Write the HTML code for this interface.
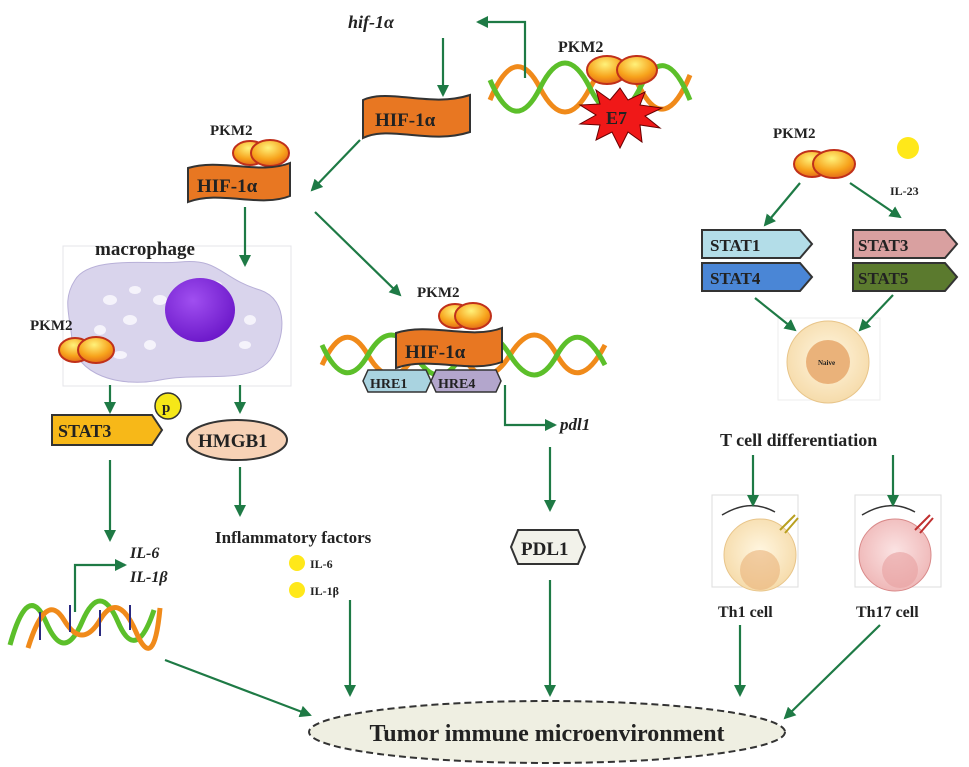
<!DOCTYPE html>
<html><head><meta charset="utf-8"><style>
body{margin:0;background:#fff}
svg{display:block}
text{font-family:"Liberation Serif",serif;font-weight:bold;fill:#222}
</style></head><body>
<svg width="969" height="767" viewBox="0 0 969 767" xmlns="http://www.w3.org/2000/svg">
<defs>
<marker id="a" markerWidth="12" markerHeight="12" refX="10" refY="6" orient="auto" markerUnits="userSpaceOnUse"><path d="M0,0 L12,6 L0,12 Z" fill="#1e7a45"/></marker>
<radialGradient id="og" cx="0.45" cy="0.3" r="0.75"><stop offset="0" stop-color="#fff27a"/><stop offset="0.6" stop-color="#f7a21b"/><stop offset="1" stop-color="#e0601a"/></radialGradient>
<radialGradient id="nv" cx="0.5" cy="0.45" r="0.6"><stop offset="0" stop-color="#fff6e0"/><stop offset="1" stop-color="#f5d9a6"/></radialGradient>
<radialGradient id="pk" cx="0.5" cy="0.45" r="0.6"><stop offset="0" stop-color="#fbe3e3"/><stop offset="1" stop-color="#eeb4b4"/></radialGradient>
<radialGradient id="nuc" cx="0.4" cy="0.35" r="0.7"><stop offset="0" stop-color="#a04ff0"/><stop offset="1" stop-color="#6a16c8"/></radialGradient>
</defs>
<!-- top DNA -->
<g fill="none" stroke-width="5">
<path d="M490 100 Q515 40 540 88 T590 88 T640 88 T690 75" stroke="#f08a1a"/>
<path d="M490 80 Q515 138 540 88 T590 88 T640 88 T690 100" stroke="#5cbf2a"/>
</g>
<text x="558" y="52" font-size="16">PKM2</text>
<ellipse cx="607" cy="70" rx="20" ry="14" fill="url(#og)" stroke="#c0301a" stroke-width="2"/>
<ellipse cx="637" cy="70" rx="20" ry="14" fill="url(#og)" stroke="#c0301a" stroke-width="2"/>
<polygon points="620,88 628,100 645,92 640,105 662,108 645,116 660,128 640,125 642,142 628,132 620,148 612,132 596,140 600,125 580,124 596,115 580,105 600,104 596,90 610,100" fill="#f01818" stroke="#600" stroke-width="1"/>
<text x="606" y="124" font-size="18" fill="#600">E7</text>
<text x="348" y="28" font-size="18" font-style="italic">hif-1α</text>
<!-- HIF top -->
<path d="M363 100 C390 88 430 108 470 95 V132 C430 145 390 125 363 138 Z" fill="#e87722" stroke="#333" stroke-width="2"/>
<text x="375" y="126" font-size="19">HIF-1α</text>
<!-- HIF left -->
<text x="210" y="135" font-size="15">PKM2</text>
<ellipse cx="250" cy="153" rx="17" ry="12" fill="url(#og)" stroke="#c0301a" stroke-width="2"/>
<ellipse cx="270" cy="153" rx="19" ry="13" fill="url(#og)" stroke="#c0301a" stroke-width="2"/>
<path d="M188 168 C220 158 260 175 290 163 V196 C260 208 220 190 188 202 Z" fill="#e87722" stroke="#333" stroke-width="2"/>
<text x="197" y="192" font-size="19">HIF-1α</text>
<!-- macrophage -->
<rect x="63" y="246" width="228" height="140" fill="#fff" stroke="#e4e4ea"/>
<path d="M75 280 C90 255 150 265 180 262 C220 258 220 278 260 290 C290 300 285 340 270 360 C250 385 200 372 160 380 C120 388 75 375 72 340 C70 315 62 300 75 280 Z" fill="#d9d4ec" stroke="#b8b0d8"/>
<g fill="#f5f3fb"><ellipse cx="110" cy="300" rx="7" ry="5"/><ellipse cx="135" cy="290" rx="6" ry="4"/><ellipse cx="160" cy="300" rx="7" ry="5"/><ellipse cx="100" cy="330" rx="6" ry="5"/><ellipse cx="130" cy="320" rx="7" ry="5"/><ellipse cx="250" cy="320" rx="6" ry="5"/><ellipse cx="245" cy="345" rx="6" ry="4"/><ellipse cx="120" cy="355" rx="7" ry="4"/><ellipse cx="150" cy="345" rx="6" ry="5"/><ellipse cx="215" cy="285" rx="7" ry="4"/></g>
<ellipse cx="200" cy="310" rx="35" ry="32" fill="url(#nuc)"/>
<text x="95" y="255" font-size="19">macrophage</text>
<text x="30" y="330" font-size="15">PKM2</text>
<ellipse cx="75" cy="350" rx="16" ry="12" fill="url(#og)" stroke="#c0301a" stroke-width="2"/>
<ellipse cx="96" cy="350" rx="18" ry="13" fill="url(#og)" stroke="#c0301a" stroke-width="2"/>
<!-- middle DNA -->
<g fill="none" stroke-width="5">
<path d="M322 365 Q345 315 368 355 T415 355 T462 355 T510 355 T557 355 T605 345" stroke="#f08a1a"/>
<path d="M322 345 Q345 395 368 355 T415 355 T462 355 T510 355 T557 355 T605 365" stroke="#5cbf2a"/>
</g>
<text x="417" y="297" font-size="15">PKM2</text>
<ellipse cx="455" cy="316" rx="16" ry="12" fill="url(#og)" stroke="#c0301a" stroke-width="2"/>
<ellipse cx="473" cy="316" rx="18" ry="13" fill="url(#og)" stroke="#c0301a" stroke-width="2"/>
<path d="M396 333 C430 322 470 340 502 328 V362 C470 374 430 356 396 368 Z" fill="#e87722" stroke="#333" stroke-width="2"/>
<text x="405" y="358" font-size="19">HIF-1α</text>
<path d="M368 370 H426 L431 381 L426 392 H368 L363 381 Z" fill="#a9d3e0" stroke="#333" stroke-width="1.5"/>
<text x="370" y="388" font-size="14">HRE1</text>
<path d="M436 370 H496 L501 381 L496 392 H436 L431 381 Z" fill="#b3a6cc" stroke="#333" stroke-width="1.5"/>
<text x="438" y="388" font-size="14">HRE4</text>
<text x="560" y="430" font-size="17" font-style="italic">pdl1</text>
<path d="M518 530 H578 L585 547 L578 564 H518 L511 547 Z" fill="#f2f2ea" stroke="#333" stroke-width="2"/>
<text x="521" y="555" font-size="19">PDL1</text>
<!-- STAT3 left -->
<path d="M52 415 H152 L162 430 L152 445 H52 Z" fill="#f7b818" stroke="#333" stroke-width="2"/>
<text x="58" y="437" font-size="18">STAT3</text>
<circle cx="168" cy="406" r="13" fill="#f5e718" stroke="#333" stroke-width="1.5"/>
<text x="162" y="412" font-size="15">p</text>
<ellipse cx="237" cy="440" rx="50" ry="20" fill="#f7d2b6" stroke="#333" stroke-width="2"/>
<text x="198" y="447" font-size="19">HMGB1</text>
<text x="130" y="558" font-size="16" font-style="italic">IL-6</text>
<text x="130" y="582" font-size="16" font-style="italic">IL-1β</text>
<g fill="none" stroke-width="5">
<path d="M10 645 Q28 580 46 622 T82 622 T118 622 T154 610" stroke="#5cbf2a"/>
<path d="M28 648 Q46 590 64 620 T100 620 T136 632 T160 608" stroke="#f08a1a"/>
</g>
<g stroke="#2a2a80" stroke-width="2"><path d="M40 612 V640 M70 605 V632 M100 610 V636 M130 605 V630"/></g>
<text x="215" y="543" font-size="17">Inflammatory factors</text>
<circle cx="297" cy="563" r="8" fill="#ffe81a"/>
<text x="310" y="568" font-size="12">IL-6</text>
<circle cx="297" cy="590" r="8" fill="#ffe81a"/>
<text x="310" y="595" font-size="12">IL-1β</text>
<!-- ellipse -->
<ellipse cx="547" cy="732" rx="238" ry="31" fill="#efefe2" stroke="#333" stroke-width="2" stroke-dasharray="7,4"/>
<text x="547" y="741" font-size="24" text-anchor="middle">Tumor immune microenvironment</text>
<!-- right side -->
<text x="773" y="138" font-size="15">PKM2</text>
<ellipse cx="812" cy="164" rx="18" ry="13" fill="url(#og)" stroke="#c0301a" stroke-width="2"/>
<ellipse cx="834" cy="164" rx="21" ry="14" fill="url(#og)" stroke="#c0301a" stroke-width="2"/>
<circle cx="908" cy="148" r="11" fill="#ffe81a"/>
<text x="890" y="195" font-size="12">IL-23</text>
<path d="M702 230 H800 L812 244 L800 258 H702 Z" fill="#b3dde8" stroke="#333" stroke-width="2"/>
<text x="710" y="251" font-size="17">STAT1</text>
<path d="M702 263 H800 L812 277 L800 291 H702 Z" fill="#4a86d6" stroke="#333" stroke-width="2"/>
<text x="710" y="284" font-size="17">STAT4</text>
<path d="M853 230 H945 L957 244 L945 258 H853 Z" fill="#d9a0a0" stroke="#333" stroke-width="2"/>
<text x="858" y="251" font-size="17">STAT3</text>
<path d="M853 263 H945 L957 277 L945 291 H853 Z" fill="#5b7a2e" stroke="#333" stroke-width="2"/>
<text x="858" y="284" font-size="17">STAT5</text>
<rect x="778" y="318" width="102" height="82" fill="#fff" stroke="#eee"/>
<circle cx="828" cy="362" r="41" fill="url(#nv)" stroke="#e8c58a"/>
<circle cx="828" cy="362" r="22" fill="#eab27a"/>
<text x="818" y="365" font-size="7" font-weight="normal" fill="#555" font-family="Liberation Sans,sans-serif">Naive</text>
<text x="720" y="446" font-size="18">T cell differentiation</text>
<rect x="712" y="495" width="86" height="92" fill="#fff" stroke="#ddd"/>
<circle cx="760" cy="555" r="36" fill="url(#nv)" stroke="#e8c58a"/>
<circle cx="760" cy="570" r="20" fill="#eab27a" opacity="0.6"/>
<path d="M722 515 Q750 498 775 512" fill="none" stroke="#333" stroke-width="1.5"/>
<path d="M780 530 L795 515 M785 533 L798 518" stroke="#b9a020" stroke-width="2"/>
<rect x="855" y="495" width="86" height="92" fill="#fff" stroke="#ddd"/>
<circle cx="895" cy="555" r="36" fill="url(#pk)" stroke="#d98a8a"/>
<circle cx="900" cy="570" r="18" fill="#e8a0a0" opacity="0.6"/>
<path d="M862 515 Q890 498 915 512" fill="none" stroke="#333" stroke-width="1.5"/>
<path d="M915 530 L930 515 M920 533 L933 518" stroke="#c03030" stroke-width="2"/>
<text x="718" y="617" font-size="16">Th1 cell</text>
<text x="856" y="617" font-size="16">Th17 cell</text>
<!-- arrows on top -->
<g stroke="#1e7a45" stroke-width="2.2" fill="none" marker-end="url(#a)">
<path d="M525 78 V22 H478"/>
<path d="M443 38 V95"/>
<path d="M360 140 L312 190"/>
<path d="M245 207 V265"/>
<path d="M315 212 L400 295"/>
<path d="M505 385 V425 H555"/>
<path d="M550 447 V510"/>
<path d="M550 580 V695"/>
<path d="M110 385 V412"/>
<path d="M240 385 V412"/>
<path d="M110 460 V540"/>
<path d="M75 612 V565 H125"/>
<path d="M240 467 V515"/>
<path d="M350 600 V695"/>
<path d="M165 660 L310 715"/>
<path d="M800 183 L765 225"/>
<path d="M850 183 L900 217"/>
<path d="M755 298 L795 330"/>
<path d="M893 295 L860 330"/>
<path d="M753 455 V505"/>
<path d="M893 455 V505"/>
<path d="M740 625 V695"/>
<path d="M880 625 L785 718"/>
</g>
</svg>
</body></html>
